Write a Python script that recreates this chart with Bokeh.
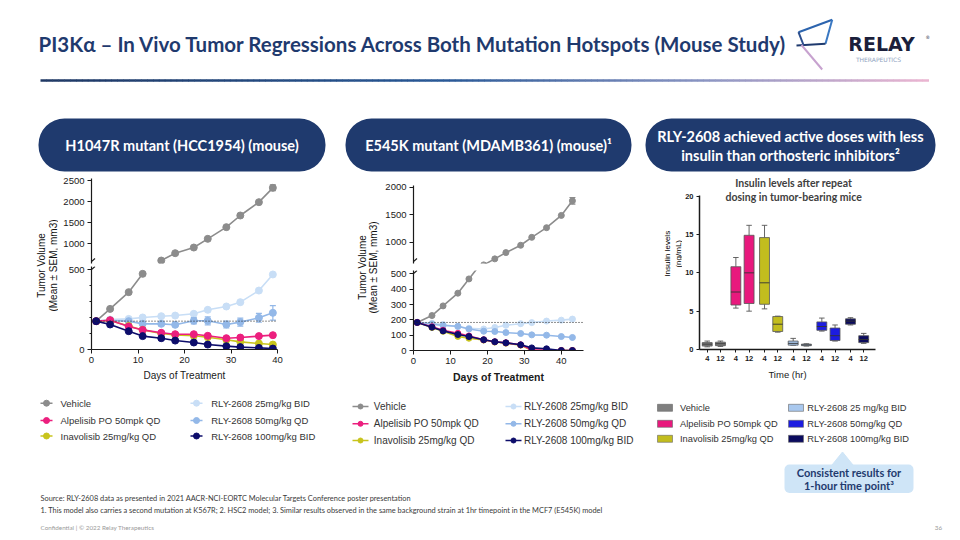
import numpy as np
from bokeh.plotting import figure
from bokeh.layouts import column, row
from bokeh.models import (Range1d, FixedTicker, Span, BoxAnnotation, Whisker, TeeHead,
                          ColumnDataSource, Arrow)
from bokeh.core.properties import value
from bokeh.embed import file_html
from bokeh.resources import INLINE

# ---------------- data ----------------
series_names = ["Vehicle", "Alpelisib PO 50mpk QD", "Inavolisib 25mg/kg QD",
                "RLY-2608 25mg/kg BID", "RLY-2608 50mg/kg QD", "RLY-2608 100mg/kg BID"]
series_colors = ["#8C8C8C", "#EC1F7E", "#C8C41C", "#C8DEF6", "#93B8E8", "#0D0D6B"]

# H1047R mutant (HCC1954)
h_days = [1, 4, 8, 11, 15, 18, 22, 25, 29, 32, 36, 39]
h_vehicle = [178, 255, 360, 475, 593, 769, 904, 1112, 1391, 1670, 1989, 2332]
h_alpelisib = [178, 184, 144, 123, 105, 96, 96, 86, 71, 75, 84, 90]
h_inavolisib = [178, 182, 148, 123, 100, 92, 86, 77, 61, 48, 38, 31]
h_rly25 = [178, 188, 192, 201, 209, 213, 224, 249, 270, 297, 370, 471]
h_rly50 = [178, 182, 178, 161, 161, 155, 180, 180, 157, 172, 199, 230]
h_rly100 = [178, 157, 115, 84, 71, 56, 44, 31, 21, 15, 10, 6]
h_vehicle_sem = [0, 0, 0, 0, 0, 0, 0, 0, 0, 0, 0, 70]
h_rly50_sem = [0, 0, 0, 0, 12, 10, 20, 25, 22, 25, 28, 45]

# E545K mutant (MDAMB361)
m_days = [1, 5, 8, 12, 15, 19, 22, 25, 29, 32, 36, 40, 43]
m_vehicle = [183, 228, 291, 374, 467, 590, 699, 813, 946, 1090, 1265, 1488, 1753]
m_alpelisib = [183, 155, 132, 112, 95, 70, 57, 50, 37, 5, 3, 0, 0]
m_inavolisib = [183, 150, 125, 92, 80, 68, 55, 48, 35, 0, 0, 0, 0]
m_rly25 = [183, 178, 170, 155, 145, 140, 150, 165, 175, 182, 192, 198, 205]
m_rly50 = [183, 172, 163, 158, 140, 126, 124, 117, 111, 102, 100, 91, 85]
m_rly100 = [183, 152, 128, 104, 91, 70, 57, 50, 37, 17, 11, 0, 0]
m_vehicle_sem = [0, 0, 0, 0, 0, 0, 0, 0, 0, 0, 0, 0, 60]

# Insulin levels (ng/mL), box plots: per group, times 4 h and 12 h
box_names = ["Vehicle", "Alpelisib PO 50mpk QD", "Inavolisib 25mg/kg QD",
             "RLY-2608 25 mg/kg BID", "RLY-2608 50mg/kg QD", "RLY-2608 100mg/kg BID"]
box_colors = ["#7F7F7F", "#E8197D", "#C2BD1E", "#A9C8EE", "#1C1CE0", "#0B0B5E"]
box_times = ["4", "12"]
ins_lo = [0.35, 0.4, 5.4, 5.0, 5.3, 2.26, 0.55, 0.45, 2.4, 1.1, 3.2, 0.8]
ins_q1 = [0.45, 0.5, 5.8, 6.0, 5.9, 2.35, 0.57, 0.5, 2.5, 1.17, 3.3, 0.9]
ins_med = [0.7, 0.75, 7.5, 10.0, 8.7, 3.3, 0.8, 0.6, 3.0, 1.8, 3.7, 1.3]
ins_q3 = [0.9, 0.95, 10.8, 14.9, 14.6, 4.3, 1.1, 0.7, 3.6, 2.8, 4.0, 1.8]
ins_hi = [1.1, 1.1, 12.0, 16.2, 16.2, 4.35, 1.45, 0.75, 4.1, 3.2, 4.15, 2.1]

y_ticks_h_low = [0, 500]
y_ticks_h_up = [1000, 1500, 2000, 2500]
y_ticks_m_low = [0, 100, 200, 300, 400, 500]
y_ticks_m_up = [1000, 1500, 2000]
x_ticks_days = [0, 10, 20, 30, 40]
y_ticks_ins = [0, 5, 10, 15, 20]

# ---------------- styling ----------------
FA = "Liberation Sans"
FL = "Lato"
NAVY = "#1F3A6E"
AX = "#1a1a1a"
W = 956


def base_fig(w, h, xr, yr, bl=0, br=0, bt=0, bb=0, xaxis=False, yaxis=False):
    p = figure(width=w, height=h, x_range=Range1d(*xr), y_range=Range1d(*yr),
               output_backend="svg", toolbar_location=None,
               x_axis_location="below" if xaxis else None,
               y_axis_location="left" if yaxis else None,
               min_border_left=bl, min_border_right=br, min_border_top=bt, min_border_bottom=bb)
    p.grid.visible = False
    p.outline_line_color = None
    p.background_fill_color = "white"
    p.border_fill_color = "white"
    return p


def style_axis(ax, size="9.5px", bold=False, tick_out=4, lw=1.2):
    ax.axis_line_color = AX
    ax.axis_line_width = lw
    ax.major_tick_line_color = AX
    ax.major_tick_out = tick_out
    ax.major_tick_in = 0
    ax.minor_tick_line_color = AX
    ax.minor_tick_out = 2
    ax.minor_tick_in = 0
    ax.major_label_text_font = FA
    ax.major_label_text_font_size = size
    ax.major_label_text_color = AX
    ax.major_label_standoff = 3
    ax.major_label_text_font_style = "bold" if bold else "normal"


def txt(p, x, y, s, size, color="#222222", font=FA, bold=False, align="left",
        baseline="middle", angle=0.0):
    p.text(x=[x], y=[y], text=[s], text_font=value(font), text_font_size=size,
           text_color=color, text_font_style="bold" if bold else "normal",
           text_align=align, text_baseline=baseline, angle=angle)


def draw_series(p, days, vals, color, size, mask=None):
    d = np.array(days, dtype=float)
    v = np.array(vals, dtype=float)
    if mask is not None:
        d, v = d[mask], v[mask]
    p.line(d, v, line_color=color, line_width=1.6)
    p.scatter(d, v, size=size, fill_color=color, line_color=color)


def err_bars(p, days, vals, sem, color):
    d = np.array(days, dtype=float)
    v = np.array(vals, dtype=float)
    s = np.array(sem, dtype=float)
    keep = s > 0
    src = ColumnDataSource(dict(x=d[keep], lo=(v - s)[keep], hi=(v + s)[keep]))
    p.add_layout(Whisker(source=src, base="x", lower="lo", upper="hi", line_color=color,
                         line_width=1.2,
                         upper_head=TeeHead(size=6, line_color=color, line_width=1.2),
                         lower_head=TeeHead(size=6, line_color=color, line_width=1.2)))


def break_mark(p, xr, yr, at_top):
    # short diagonal "/" across the y axis at the end of an axis segment
    fw = p.width - p.min_border_left - p.min_border_right
    fh = p.height - p.min_border_top - p.min_border_bottom
    ux = (xr[1] - xr[0]) / fw
    uy = (yr[1] - yr[0]) / fh
    y0 = yr[1] - 3 * uy if at_top else yr[0] + 2 * uy
    p.add_layout(Arrow(x_start=xr[0] - 3.5 * ux, y_start=y0 - 3 * uy,
                       x_end=xr[0] + 3.5 * ux, y_end=y0 + 3 * uy,
                       start=None, end=None, line_color=AX, line_width=1.2))


# ---------------- header ----------------
header = base_fig(W, 112, (0, W), (112, 0))
txt(header, 38, 43, "PI3K\u03b1 \u2013 In Vivo Tumor Regressions Across Both Mutation Hotspots (Mouse Study)",
    "20.5px", color=NAVY, font=FL, bold=True)
stops = [(0.0, (31, 56, 100)), (0.45, (40, 88, 150)), (0.75, (140, 150, 195)), (1.0, (236, 182, 210))]
N = 150
gx = np.linspace(40, 928, N + 1)
gcols = []
for i in range(N):
    t = (i + 0.5) / N
    for j in range(len(stops) - 1):
        if stops[j][0] <= t <= stops[j + 1][0]:
            a = (t - stops[j][0]) / (stops[j + 1][0] - stops[j][0])
            c = [int(stops[j][1][k] + a * (stops[j + 1][1][k] - stops[j][1][k])) for k in range(3)]
            gcols.append("#%02x%02x%02x" % tuple(c))
            break
header.segment(x0=gx[:-1], x1=gx[1:] + 0.5, y0=[80] * N, y1=[80] * N, line_color=gcols, line_width=2.5)
# logo mark
header.segment(x0=[798, 831.7, 825, 798], y0=[31.7, 19.3, 43.3, 31.7],
               x1=[831.7, 825, 796, 803], y1=[19.3, 43.3, 45, 44.5],
               line_color=["#2C64AE", "#3A78C2", "#1F3A6E", "#2C4F8E"], line_width=2.0)
header.segment(x0=[801], y0=[44.5], x1=[821.7], y1=[69], line_color=["#C7A2CF"], line_width=2.0)
txt(header, 881, 43.5, "RELAY", "19px", color="#1B1F3B", font="DejaVu Sans", bold=True, align="center")
txt(header, 925, 37, "\u00ae", "4.5px", color="#1B1F3B", font="DejaVu Sans")
txt(header, 878, 59, "THERAPEUTICS", "6px", color="#8FA3C0", font="DejaVu Sans", align="center")

# ---------------- pills ----------------
pills = base_fig(W, 60, (0, W), (172, 112))
for (l, r) in [(38, 325), (345, 631), (645, 935)]:
    pills.add_layout(BoxAnnotation(left=l, right=r, top=118, bottom=171, fill_color=NAVY,
                                   fill_alpha=1.0, line_color=None, border_radius=26, level="underlay"))
txt(pills, 181.5, 145, "H1047R mutant (HCC1954) (mouse)", "14.5px", color="white", font=FL, bold=True, align="center")
txt(pills, 488, 145, "E545K mutant (MDAMB361) (mouse)\u00b9", "14.5px", color="white", font=FL, bold=True, align="center")
txt(pills, 790, 135.5, "RLY-2608 achieved active doses with less", "14.5px", color="white", font=FL, bold=True, align="center")
txt(pills, 790, 155, "insulin than orthosteric inhibitors\u00b2", "14.5px", color="white", font=FL, bold=True, align="center")

order = [0, 3, 4, 2, 1, 5]

# ---------------- chart 1 (H1047R) ----------------
ylab1 = base_fig(58, 220, (0, 58), (220, 0))
txt(ylab1, 41, 93, "Tumor Volume", "10px", color="#111111", align="center", angle=np.pi / 2)
txt(ylab1, 52.5, 93, "(Mean \u00b1 SEM, mm3)", "10px", color="#111111", align="center", angle=np.pi / 2)

up1_x, up1_y = (0, 40), (522, 2555)
up1 = base_fig(272, 93, up1_x, up1_y, bl=33, br=53, bt=6, bb=2, yaxis=True)
style_axis(up1.yaxis[0])
up1.yaxis[0].ticker = FixedTicker(ticks=y_ticks_h_up, minor_ticks=[])
hv = np.array(h_vehicle, dtype=float)
draw_series(up1, h_days, h_vehicle, series_colors[0], 7, mask=hv > 500)
err_bars(up1, h_days, h_vehicle, h_vehicle_sem, series_colors[0])
break_mark(up1, up1_x, up1_y, at_top=False)

lo1_x, lo1_y = (0, 40), (0, 521)
lo1 = base_fig(272, 127, lo1_x, lo1_y, bl=33, br=53, bt=1, bb=43, xaxis=True, yaxis=True)
style_axis(lo1.yaxis[0])
style_axis(lo1.xaxis[0])
lo1.yaxis[0].ticker = FixedTicker(ticks=y_ticks_h_low, minor_ticks=[100, 200, 300, 400])
lo1.xaxis[0].ticker = FixedTicker(ticks=x_ticks_days, minor_ticks=[])
lo1.xaxis[0].axis_label = "Days of Treatment"
lo1.xaxis[0].axis_label_text_font = FA
lo1.xaxis[0].axis_label_text_font_size = "10px"
lo1.xaxis[0].axis_label_text_font_style = "normal"
lo1.xaxis[0].axis_label_text_color = AX
lo1.xaxis[0].axis_label_standoff = 4
lo1.add_layout(Span(location=h_vehicle[0], dimension="width", line_color="#222222",
                    line_dash="1 2", line_width=1))
h_series = [h_vehicle, h_alpelisib, h_inavolisib, h_rly25, h_rly50, h_rly100]
for i in order:
    if i == 0:
        draw_series(lo1, h_days, h_vehicle, series_colors[0], 7, mask=hv <= 500)
    else:
        draw_series(lo1, h_days, h_series[i], series_colors[i], 7)
    if i == 4:
        err_bars(lo1, h_days, h_rly50, h_rly50_sem, series_colors[4])
break_mark(lo1, lo1_x, lo1_y, at_top=True)

col1 = row(ylab1, column(up1, lo1, spacing=0), spacing=0)

# ---------------- chart 2 (E545K) ----------------
ylab2 = base_fig(50, 220, (0, 50), (220, 0))
txt(ylab2, 31.7, 95, "Tumor Volume", "10px", color="#111111", align="center", angle=np.pi / 2)
txt(ylab2, 43.3, 95, "(Mean \u00b1 SEM, mm3)", "10px", color="#111111", align="center", angle=np.pi / 2)

up2_x, up2_y = (0, 46), (615, 2031)
up2 = base_fig(260, 93, up2_x, up2_y, bl=33, br=57, bt=13, bb=2, yaxis=True)
style_axis(up2.yaxis[0])
up2.yaxis[0].ticker = FixedTicker(ticks=y_ticks_m_up, minor_ticks=[])
draw_series(up2, m_days, m_vehicle, series_colors[0], 6)
err_bars(up2, m_days, m_vehicle, m_vehicle_sem, series_colors[0])
break_mark(up2, up2_x, up2_y, at_top=False)

lo2_x, lo2_y = (0, 46), (0, 522)
lo2 = base_fig(260, 127, lo2_x, lo2_y, bl=33, br=57, bt=5, bb=42, xaxis=True, yaxis=True)
style_axis(lo2.yaxis[0])
style_axis(lo2.xaxis[0])
lo2.yaxis[0].ticker = FixedTicker(ticks=y_ticks_m_low, minor_ticks=[])
lo2.xaxis[0].ticker = FixedTicker(ticks=x_ticks_days, minor_ticks=[])
lo2.xaxis[0].axis_label = "Days of Treatment"
lo2.xaxis[0].axis_label_text_font = FA
lo2.xaxis[0].axis_label_text_font_size = "10.5px"
lo2.xaxis[0].axis_label_text_font_style = "bold"
lo2.xaxis[0].axis_label_text_color = AX
lo2.xaxis[0].axis_label_standoff = 4
lo2.add_layout(Span(location=m_vehicle[0], dimension="width", line_color="#222222",
                    line_dash="1 2", line_width=1))
m_series = [m_vehicle, m_alpelisib, m_inavolisib, m_rly25, m_rly50, m_rly100]
for i in order:
    draw_series(lo2, m_days, m_series[i], series_colors[i], 6)
break_mark(lo2, lo2_x, lo2_y, at_top=True)

col2 = row(ylab2, column(up2, lo2, spacing=0), spacing=0)

# ---------------- chart 3 (insulin) ----------------
ylab3 = base_fig(42, 220, (0, 42), (220, 0))
txt(ylab3, 26.7, 101, "Insulin levels", "8px", color="#000000", align="center", angle=np.pi / 2)
txt(ylab3, 37.7, 101, "(ng/mL)", "8px", color="#000000", align="center", angle=np.pi / 2)

GW = 26.0
ins = base_fig(274, 220, (0, 159.7), (0, 23.09), bl=17, br=81, bt=0, bb=43, xaxis=True, yaxis=True)
style_axis(ins.yaxis[0], size="7.5px", bold=True, tick_out=3, lw=1.5)
style_axis(ins.xaxis[0], size="7.5px", bold=True, tick_out=3, lw=1.5)
ins.yaxis[0].bounds = (0, 20.1)
ins.yaxis[0].ticker = FixedTicker(ticks=y_ticks_ins, minor_ticks=[])
pos, cols, overrides = [], [], {}
for gi in range(len(box_names)):
    for ti, t in enumerate(box_times):
        x = int(GW * gi + (7 if ti == 0 else 19))
        pos.append(x)
        cols.append(box_colors[gi])
        overrides[x] = t
ins.xaxis[0].ticker = FixedTicker(ticks=pos, minor_ticks=[])
ins.xaxis[0].major_label_overrides = overrides
ins.xaxis[0].axis_label = "Time (hr)"
ins.xaxis[0].axis_label_text_font = FA
ins.xaxis[0].axis_label_text_font_size = "9.5px"
ins.xaxis[0].axis_label_text_font_style = "normal"
ins.xaxis[0].axis_label_text_color = AX
ins.xaxis[0].axis_label_standoff = 5
P = np.array(pos, dtype=float)
BW = 9.0
CW = 5.0
ins.segment(x0=P, x1=P, y0=ins_q3, y1=ins_hi, line_color="#555555", line_width=0.9)
ins.segment(x0=P, x1=P, y0=ins_q1, y1=ins_lo, line_color="#555555", line_width=0.9)
ins.segment(x0=P - CW / 2, x1=P + CW / 2, y0=ins_hi, y1=ins_hi, line_color="#555555", line_width=0.9)
ins.segment(x0=P - CW / 2, x1=P + CW / 2, y0=ins_lo, y1=ins_lo, line_color="#555555", line_width=0.9)
ins.vbar(x=P, width=BW, top=ins_q3, bottom=ins_q1, fill_color=cols, line_color="#555555", line_width=0.8)
ins.segment(x0=P - BW / 2, x1=P + BW / 2, y0=ins_med, y1=ins_med, line_color="#333333", line_width=0.9)
txt(ins, 85.4, 21.7, "Insulin levels after repeat", "10.5px", color="#404040", font=FL, bold=True, align="center")
txt(ins, 85.4, 19.87, "dosing in tumor-bearing mice", "10.5px", color="#404040", font=FL, bold=True, align="center")

col3 = row(ylab3, ins, spacing=0)

# ---------------- bottom: legends, callout, footnotes ----------------
bot = base_fig(W, 144, (0, W), (536, 392))


def line_legend(p, rows, xl, xt, xr_l, xr_t, seg, size, fs):
    for k in range(6):
        c = k // 3
        r = k % 3
        x0 = xl if c == 0 else xr_l
        xtext = xt if c == 0 else xr_t
        y = rows[r]
        p.segment(x0=[x0], x1=[x0 + seg], y0=[y], y1=[y], line_color=series_colors[k], line_width=1.6)
        p.scatter(x=[x0 + seg / 2], y=[y], size=size, fill_color=series_colors[k], line_color=series_colors[k])
        txt(p, xtext, y, series_names[k], fs, color="#333333")


line_legend(bot, [402.7, 420, 435.5], 40, 60, 190, 210.7, 12, 6, "9.5px")
line_legend(bot, [406, 423.3, 440], 352, 373.3, 505, 523.5, 16, 5, "10px")
for k in range(6):
    c = k // 3
    r = k % 3
    y = [407.3, 423.3, 438.3][r]
    x0 = 657 if c == 0 else 788
    xtext = 679.5 if c == 0 else 806.7
    bot.quad(left=[x0], right=[x0 + 15], top=[y - 3.5], bottom=[y + 3.5], fill_color=box_colors[k],
             line_color="#666666", line_width=0.6)
    txt(bot, xtext, y, box_names[k], "9.3px", color="#333333")

CALL = "#CFE5F7"
bot.add_layout(BoxAnnotation(left=784, right=913, top=464, bottom=492.5, fill_color=CALL, fill_alpha=1.0,
                             line_color=None, border_radius=5, level="underlay"))
bot.patch(x=[831.5, 842, 852.5], y=[464.5, 451.5, 464.5], fill_color=CALL, line_color=CALL)
txt(bot, 848.5, 472, "Consistent results for", "11px", color=NAVY, font=FL, bold=True, align="center")
txt(bot, 848.5, 485, "1-hour time point\u00b3", "11px", color=NAVY, font=FL, bold=True, align="center")

txt(bot, 40, 498, "Source: RLY-2608 data as presented in 2021 AACR-NCI-EORTC Molecular Targets Conference poster presentation",
    "7.4px", color="#3a3a3a", font=FL)
txt(bot, 40, 510, "1. This model also carries a second mutation at K567R; 2. HSC2 model; 3. Similar results observed in the same background strain at 1hr timepoint in the MCF7 (E545K) model",
    "7.4px", color="#3a3a3a", font=FL)
txt(bot, 40, 527, "Confidential | \u00a9 2022 Relay Therapeutics", "6.3px", color="#9a9a9a", font=FL)
txt(bot, 938, 527, "36", "6.3px", color="#9a9a9a", font=FL, align="center")

layout = column(header, pills, row(col1, col2, col3, spacing=0), bot, spacing=0)

open("out.html", "w").write(file_html(layout, INLINE))
